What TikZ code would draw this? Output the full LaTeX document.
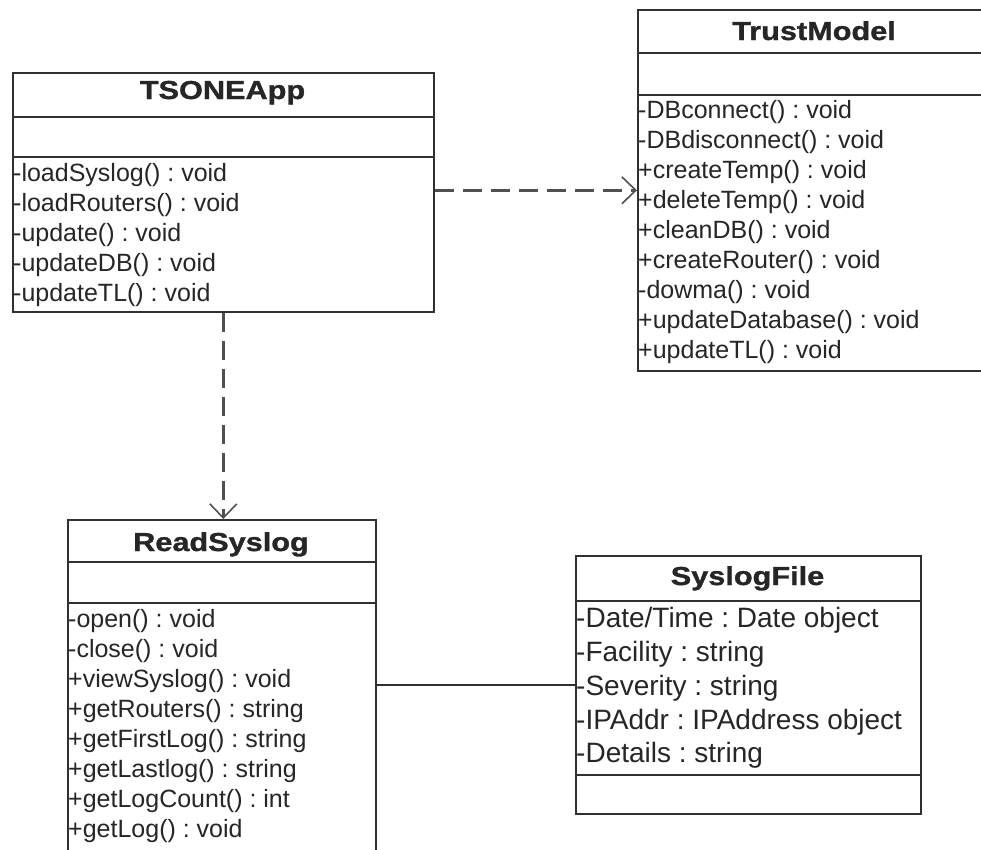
\documentclass[tikz,border=0pt]{standalone}
\usepackage{fontspec}
\setmainfont{Liberation Sans}
\newfontfamily\titlefont[FakeStretch=1.18,FakeBold=1.2]{Liberation Sans}
\usetikzlibrary{arrows.meta}
\definecolor{ink}{HTML}{262626}
\definecolor{edge}{HTML}{303030}
\definecolor{dashink}{HTML}{505050}
\frenchspacing

\begin{document}
\begin{tikzpicture}[
  x=1pt, y=-1pt,
  classbox/.style={draw=edge, line width=1.6pt, rectangle, inner sep=0pt, anchor=north west},
  sep/.style={draw=edge, line width=1.6pt},
  title/.style={font=\titlefont\bfseries\fontsize{26}{30}\selectfont, text=ink, inner sep=0pt, anchor=base},
  member/.style={font=\fontsize{25}{30}\selectfont, text=ink, inner sep=0pt, anchor=base west},
  attr/.style={font=\fontsize{28}{34}\selectfont, text=ink, inner sep=0pt, anchor=base west},
  dep/.style={draw=dashink, line width=2.8pt, dash pattern=on 19pt off 9pt,
              -{Straight Barb[length=14pt,width=27pt,line width=1.6pt]}},
  assoc/.style={draw=edge, line width=1.8pt}
]
\useasboundingbox (0,0) rectangle (981,849);
\clip (0,0) rectangle (981,849);
\fill[white] (0,0) rectangle (981,849);

% ---- TSONEApp ----
\node[classbox, minimum width=421pt, minimum height=239pt] (app) at (12,72) {};
\draw[sep] ([yshift=-45pt]app.north west) -- ([yshift=-45pt]app.north east);
\draw[sep] ([yshift=-85pt]app.north west) -- ([yshift=-85pt]app.north east);
\node[title] (appT) at (222.5,99) {TSONEApp};
\node[member] (app1) at (13,181) {-loadSyslog() : void};
\node[member] (app2) at (13,211) {-loadRouters() : void};
\node[member] (app3) at (13,241) {-update() : void};
\node[member] (app4) at (13,271) {-updateDB() : void};
\node[member] (app5) at (13,301) {-updateTL() : void};

% ---- TrustModel ----
\node[classbox, minimum width=354pt, minimum height=361pt] (tm) at (637,9) {};
\draw[sep] ([yshift=-44pt]tm.north west) -- ([yshift=-44pt]tm.north east);
\draw[sep] ([yshift=-86pt]tm.north west) -- ([yshift=-86pt]tm.north east);
\node[title] (tmT) at (814,40) {TrustModel};
\node[member] (tm1) at (638,118) {-DBconnect() : void};
\node[member] (tm2) at (638,148) {-DBdisconnect() : void};
\node[member] (tm3) at (638,178) {+createTemp() : void};
\node[member] (tm4) at (638,208) {+deleteTemp() : void};
\node[member] (tm5) at (638,238) {+cleanDB() : void};
\node[member] (tm6) at (638,268) {+createRouter() : void};
\node[member] (tm7) at (638,298) {-dowma() : void};
\node[member] (tm8) at (638,328) {+updateDatabase() : void};
\node[member] (tm9) at (638,358) {+updateTL() : void};

% ---- ReadSyslog ----
\node[classbox, minimum width=308pt, minimum height=345pt] (rs) at (67,519) {};
\draw[sep] ([yshift=-43pt]rs.north west) -- ([yshift=-43pt]rs.north east);
\draw[sep] ([yshift=-84pt]rs.north west) -- ([yshift=-84pt]rs.north east);
\node[title] (rsT) at (221,551) {ReadSyslog};
\node[member] (rs1) at (68,627) {-open() : void};
\node[member] (rs2) at (68,657) {-close() : void};
\node[member] (rs3) at (68,687) {+viewSyslog() : void};
\node[member] (rs4) at (68,717) {+getRouters() : string};
\node[member] (rs5) at (68,747) {+getFirstLog() : string};
\node[member] (rs6) at (68,777) {+getLastlog() : string};
\node[member] (rs7) at (68,807) {+getLogCount() : int};
\node[member] (rs8) at (68,837) {+getLog() : void};

% ---- SyslogFile ----
\node[classbox, minimum width=345pt, minimum height=258pt] (sf) at (575,555) {};
\draw[sep] ([yshift=-46pt]sf.north west) -- ([yshift=-46pt]sf.north east);
\draw[sep] ([yshift=-220pt]sf.north west) -- ([yshift=-220pt]sf.north east);
\node[title] (sfT) at (747.5,585) {SyslogFile};
\node[attr] (sf1) at (576,627.5) {-Date/Time : Date object};
\node[attr] (sf2) at (576,661) {-Facility : string};
\node[attr] (sf3) at (576,695) {-Severity : string};
\node[attr] (sf4) at (576,729) {-IPAddr : IPAddress object};
\node[attr] (sf5) at (576,762.5) {-Details : string};

% ---- relations ----
\draw[dep] (app.east |- tm.west) -- (tm.west);
\draw[dep] (app.south) -- (app.south |- rs.north);
\draw[assoc] (rs.east |- sf.west) -- (sf.west);
\end{tikzpicture}
\end{document}
